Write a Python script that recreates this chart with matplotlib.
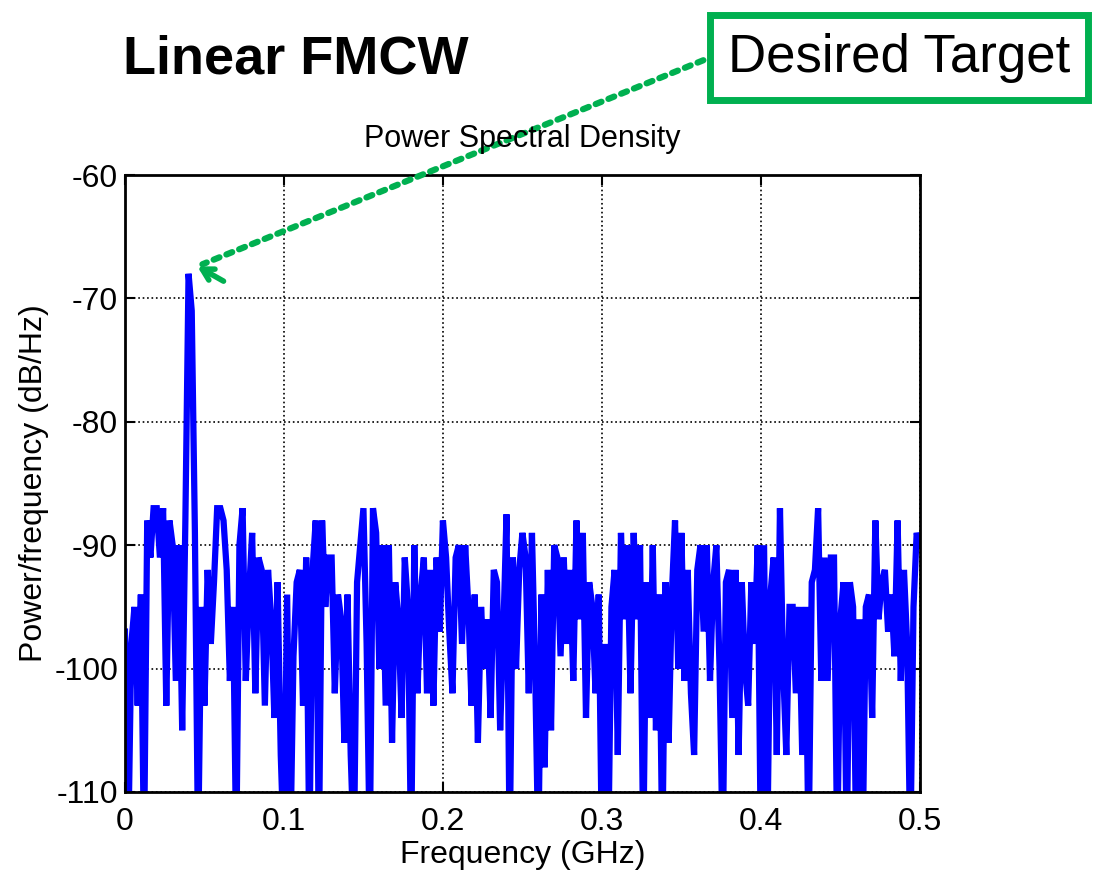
import numpy as np
import matplotlib.pyplot as plt

plt.rcParams['font.family'] = ['Liberation Sans', 'DejaVu Sans']
plt.rcParams['axes.unicode_minus'] = False

# PSD values (dB/Hz), one per 0.002 GHz from 0 to 0.5 GHz
# values at -115 are clipped at the bottom of the axes in the original
psd = [
    -97, -115, -98, -95, -103, -94, -115, -88, -91, -87,
    -87, -91, -87, -103, -88, -90, -101, -90, -105, -88,
    -68, -71, -89, -115, -95, -103, -92, -98, -93, -87,
    -87, -88, -92, -101, -95, -115, -90, -87, -101, -94,
    -89, -102, -91, -92, -103, -92, -96, -104, -93, -107,
    -115, -94, -115, -99, -93, -92, -103, -91, -115, -92,
    -88, -115, -88, -95, -91, -91, -102, -94, -96, -106,
    -94, -107, -115, -93, -90, -87, -98, -115, -87, -89,
    -100, -90, -103, -90, -106, -93, -96, -104, -91, -95,
    -115, -90, -102, -94, -91, -102, -92, -103, -91, -97,
    -88, -91, -97, -102, -91, -90, -98, -90, -95, -103,
    -94, -106, -95, -100, -96, -104, -92, -93, -105, -97,
    -87.5, -115, -91, -100, -92, -89, -91, -102, -89, -100,
    -115, -94, -108, -92, -105, -90, -91, -99, -91, -98,
    -92, -101, -88, -96, -89, -104, -93, -95, -102, -94,
    -115, -98, -115, -95, -92, -107, -89, -96, -90, -102,
    -89, -96, -90, -115, -93, -104, -90, -105, -94, -115,
    -93, -106, -94, -88, -100, -89, -101, -92, -102, -107,
    -92, -90, -97, -90, -101, -93, -90, -100, -115, -93,
    -92, -104, -92, -107, -93, -100, -103, -93, -98, -90,
    -115, -90, -115, -94, -91, -107, -87, -100, -107, -95,
    -95, -102, -95, -107, -95, -115, -93, -92, -87, -101,
    -91, -101, -91, -91, -115, -96, -93, -115, -93, -95,
    -115, -96, -115, -95, -94, -104, -88, -96, -93, -92,
    -97, -94, -99, -88, -101, -92, -98, -115, -95, -89,
    -90,
]
freq = np.linspace(0, 0.5, len(psd))  # GHz

x_ticks = [0, 0.1, 0.2, 0.3, 0.4, 0.5]
x_labels = ['0', '0.1', '0.2', '0.3', '0.4', '0.5']
y_ticks = [-110, -100, -90, -80, -70, -60]

fig = plt.figure(figsize=(10.99, 8.73), dpi=100)
ax = fig.add_axes([0.1137, 0.0928, 0.7233, 0.7067])

ax.plot(freq, psd, color='#0000ff', linewidth=4.5, solid_joinstyle='miter')
ax.set_xlim(0, 0.5)
ax.set_ylim(-110, -60)
ax.set_xticks(x_ticks)
ax.set_xticklabels(x_labels)
ax.set_yticks(y_ticks)
ax.grid(True, color='black', linestyle=':', linewidth=1.2)
ax.tick_params(direction='in', top=True, right=True, length=7, width=1.5,
               labelsize=23, pad=5)
ax.tick_params(axis='x', pad=11)
for s in ax.spines.values():
    s.set_linewidth(2)

ax.set_xlabel('Frequency (GHz)', fontsize=23, labelpad=2)
ax.set_ylabel('Power/frequency (dB/Hz)', fontsize=23, labelpad=4)
ax.set_title('Power Spectral Density', fontsize=22, pad=20)

fig.text(0.112, 0.932, 'Linear FMCW', fontsize=39, fontweight='bold',
         ha='left', va='center')

# target label box
fig.text(0.818, 0.934, 'Desired Target', fontsize=38, ha='center', va='center',
         bbox=dict(boxstyle='square,pad=0.33', facecolor='white',
                   edgecolor='#00b050', linewidth=5))

# dotted green arrow from the label to the peak
green = '#00b050'
tip = (0.0455, -67.4)
tail = (0.64, 0.931)
ax.annotate('', xy=tip, xycoords='data', xytext=tail, textcoords='figure fraction',
            arrowprops=dict(arrowstyle='-', color=green, linewidth=4.5,
                            linestyle=(0, (1, 1.2)), shrinkA=0, shrinkB=4),
            annotation_clip=False)
ax.annotate('', xy=tip, xycoords='data', xytext=(0.062, -68.6), textcoords='data',
            arrowprops=dict(arrowstyle='->,head_length=0.8,head_width=0.45',
                            color=green, linewidth=4, shrinkA=0, shrinkB=0),
            annotation_clip=False)

fig.savefig('out.png', dpi=100)
